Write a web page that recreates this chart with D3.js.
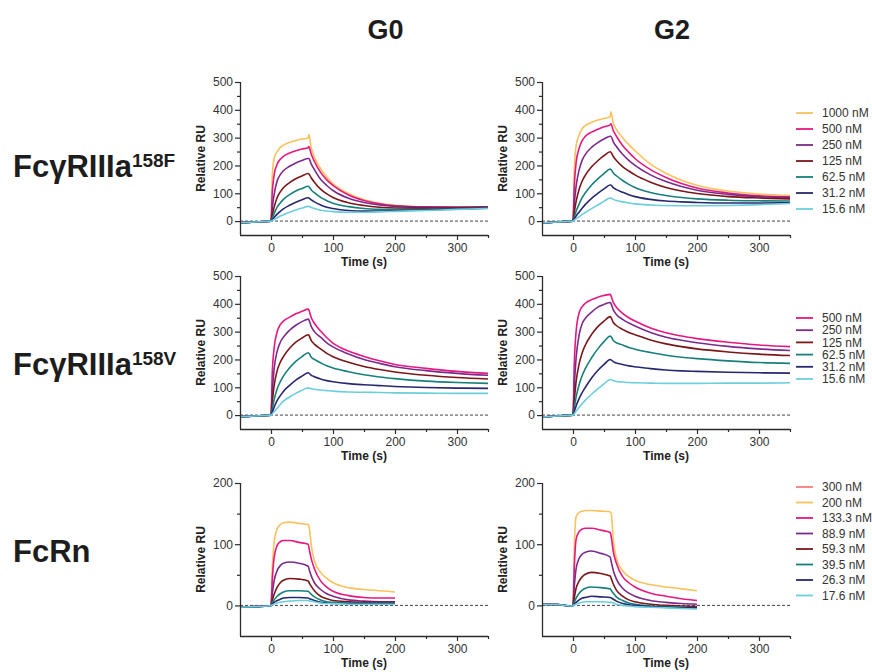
<!DOCTYPE html>
<html>
<head>
<meta charset="utf-8">
<script src="https://cdn.jsdelivr.net/npm/d3@7"></script>
<style>
  body { margin: 0; background: #fff; }
  svg { font-family: "Liberation Sans", Arial, sans-serif; }
</style>
</head>
<body>
<svg width="872" height="672"></svg>
<script>
// time grids (s)
const T_FC = [-50,-25,0,2,5,10,15,20,30,40,50,60,61,65,70,80,90,100,125,150,175,200,250,300,350];
const T_RN = [-50,-25,-5,0,2,5,10,15,20,30,45,60,62,65,70,80,90,100,125,150,175,200];

const LEG_F = ["1000 nM","500 nM","250 nM","125 nM","62.5 nM","31.2 nM","15.6 nM"];
const LEG_V = ["500 nM","250 nM","125 nM","62.5 nM","31.2 nM","15.6 nM"];
const LEG_RN = ["300 nM","200 nM","133.3 nM","88.9 nM","59.3 nM","39.5 nM","26.3 nM","17.6 nM"];

const COL_F = ["#f9c25e","#e5187f","#7b2b8c","#7a1719","#17807c","#28286f","#6ccddd"];
const COL_V = ["#e5187f","#7b2b8c","#7a1719","#17807c","#28286f","#6ccddd"];
const COL_RN = ["#f47f78","#f9c25e","#e5187f","#7b2b8c","#7a1719","#17807c","#28286f","#6ccddd"];

// G0 - FcgRIIIa 158F
const G0F = [
  [-6,-3,0,160,225,250,265,273,283,290,295,299,312,262,230,188,158,135,99,77,64,57,51,50,51],
  [-6,-3,0,100,165,205,222,233,245,253,259,264,268,240,215,175,148,128,94,74,62,55,51,50,51],
  [-6,-3,0,45,95,145,167,181,197,209,218,225,225,205,185,150,128,110,82,67,58,53,50,50,51],
  [-6,-3,0,22,50,85,105,120,138,152,162,171,170,155,140,115,98,85,66,56,50,47,46,47,49],
  [-6,-3,0,10,27,50,65,78,95,108,117,125,124,112,102,85,73,64,52,45,42,41,42,44,47],
  [-6,-3,0,5,13,25,35,44,57,68,77,84,83,76,69,58,50,45,38,36,36,37,40,43,46],
  [-6,-3,0,2,6,12,18,23,32,40,47,53,53,49,45,39,36,34,32,32,33,35,38,42,45]
];
// G2 - FcgRIIIa 158F
const G2F = [
  [-7,-3,0,180,270,310,333,343,355,363,369,375,393,352,330,300,275,253,205,172,147,129,108,97,92],
  [-7,-3,0,120,210,262,290,305,320,330,339,346,350,325,305,272,247,225,185,157,135,119,101,91,87],
  [-7,-3,0,60,125,185,220,240,265,282,295,305,305,285,268,240,218,200,166,142,124,111,96,88,84],
  [-7,-3,0,30,70,115,145,165,195,217,235,249,248,232,218,196,180,166,140,121,108,99,88,83,80],
  [-7,-3,0,14,35,62,85,102,130,152,171,187,186,173,163,146,132,121,103,92,85,80,75,73,72],
  [-7,-3,0,7,18,33,47,60,82,100,116,130,130,120,113,104,95,88,78,72,69,67,65,65,66],
  [-7,-3,0,3,8,16,24,31,45,58,71,83,83,78,74,69,65,62,58,56,55,55,56,59,63]
];
// G0 - FcgRIIIa 158V
const G0V = [
  [-6,-3,0,150,240,300,325,338,352,364,373,381,378,350,330,302,278,259,230,211,195,182,168,157,150],
  [-6,-3,0,80,165,230,262,280,305,323,336,345,343,318,300,280,260,245,220,200,186,174,160,150,143],
  [-6,-3,0,45,105,160,190,210,240,262,277,289,287,268,255,238,222,210,190,175,164,155,143,135,130],
  [-6,-3,0,20,55,95,120,140,170,193,210,224,223,208,200,188,177,169,156,145,137,131,122,117,114],
  [-6,-3,0,10,28,53,70,85,107,126,140,152,151,143,138,130,124,120,113,109,106,103,99,97,96],
  [-6,-3,0,4,12,25,38,50,65,78,89,98,98,95,93,90,88,86,83,82,81,80,79,78,78]
];
// G2 - FcgRIIIa 158V
const G2V = [
  [-7,-3,0,180,300,368,390,402,415,424,430,434,430,405,388,366,350,338,313,296,284,275,262,252,246],
  [-7,-3,0,100,205,290,330,348,370,388,398,405,402,378,362,344,331,320,297,280,269,260,247,238,232],
  [-7,-3,0,50,120,185,225,252,290,318,338,354,352,333,322,308,297,289,270,256,246,238,227,219,214],
  [-7,-3,0,25,65,110,143,168,206,238,264,284,283,268,260,252,243,237,225,215,208,203,195,189,186],
  [-7,-3,0,12,33,60,82,100,133,160,182,200,199,192,187,182,177,174,167,162,159,157,154,152,151],
  [-7,-3,0,5,14,28,42,54,75,94,112,128,128,124,121,119,117,116,115,114,114,114,115,115,116]
];
// G0 - FcRn (300 nM trace not visible)
const G0RN = [
  [],
  [-3,-2,-1,0,60,102,125,132,135,136,134,132,125,98,73,54,44,37,29,26,24,22],
  [-3,-2,-1,0,40,78,98,104,106,106,103,100,90,76,60,40,30,23,16,13,12,12],
  [-3,-2,-1,0,18,40,57,65,69,71,69,64,57,48,37,26,19,15,9,7,6,6],
  [-3,-2,-1,0,8,18,30,37,41,44,43,40,36,31,24,15,11,8,6,5,5,5],
  [-3,-2,-1,0,4,9,15,19,22,24,24,23,21,18,14,9,6,5,4,4,4,4],
  [-3,-2,-1,0,2,5,8,10,12,13,13,12,11,10,8,5,4,3,3,3,3,3],
  [-3,-2,-1,0,1,2,4,5,6,7,8,8,7,7,6,4,3,3,2,2,2,2]
];
// G2 - FcRn
const G2RN = [
  [],
  [2,1.5,-1,0,90,145,152,154,155,155,154,153,148,108,77,57,47,41,34,30,27,24],
  [2,1.5,-1,0,60,108,121,125,126,126,123,119,110,88,69,47,37,30,20,15,11,8],
  [2,1.5,-1,0,30,60,77,84,87,89,85,79,70,57,43,28,20,15,8,5,3,2],
  [2,1.5,-1,0,12,28,40,47,51,54,52,48,43,35,25,15,9,6,2,0,-1,-2],
  [2,1.5,-1,0,5,12,20,25,28,30,29,27,24,20,14,8,4,2,-1,-2,-3,-4],
  [2,1.5,-1,0,2,5,9,12,13,15,14,13,12,10,7,3,1,0,-2,-3,-4,-4],
  [2,1.5,-1,0,1,2,4,5,6,6,6,5,5,4,2,0,-1,-2,-3,-4,-5,-6]
];

const svg = d3.select("svg");
const AX = "#2b2b2b";

const panels = [
  {x0: 240, y0: 82,  yMax: 500, t: T_FC, data: G0F,  colors: COL_F},
  {x0: 542, y0: 82,  yMax: 500, t: T_FC, data: G2F,  colors: COL_F,
   legend: {labels: LEG_F, y: 113, step: 16}},
  {x0: 240, y0: 276, yMax: 500, t: T_FC, data: G0V,  colors: COL_V},
  {x0: 542, y0: 276, yMax: 500, t: T_FC, data: G2V,  colors: COL_V,
   legend: {labels: LEG_V, y: 318, step: 12.2}},
  {x0: 240, y0: 483, yMax: 200, t: T_RN, data: G0RN, colors: COL_RN},
  {x0: 542, y0: 483, yMax: 200, t: T_RN, data: G2RN, colors: COL_RN,
   legend: {labels: LEG_RN, y: 487, step: 15.5}}
];
const PW = 248, PH = 153;

panels.forEach(p => {
  const x = d3.scaleLinear().domain([-50, 350]).range([p.x0, p.x0 + PW]);
  const y = d3.scaleLinear().domain([-50, p.yMax]).range([p.y0 + PH, p.y0]);
  const g = svg.append("g");

  // zero line
  g.append("line")
    .attr("x1", x(-50)).attr("x2", x(350))
    .attr("y1", y(0)).attr("y2", y(0))
    .attr("stroke", "#444").attr("stroke-width", 1)
    .attr("stroke-dasharray", "3,2");

  // traces
  const line = d3.line()
    .x((d, i) => x(p.t[i]))
    .y(d => y(d))
    .curve(d3.curveMonotoneX);
  p.data.forEach((s, k) => {
    if (!s.length) return;
    g.append("path")
      .attr("d", line(s))
      .attr("fill", "none")
      .attr("stroke", p.colors[k])
      .attr("stroke-width", 1.6);
  });

  // axes
  const major = d3.range(0, p.yMax + 1, 100);
  const minor = d3.range(-50, p.yMax, 100).concat([50]).filter(v => v > -50);
  const yAx = g.append("g").attr("transform", `translate(${p.x0},0)`)
    .call(d3.axisLeft(y).tickValues(major).tickSize(5).tickPadding(2));
  g.append("g").attr("transform", `translate(${p.x0},0)`)
    .call(d3.axisLeft(y).tickValues(d3.range(50, p.yMax, 100)).tickSize(3).tickFormat(""))
    .select(".domain").remove();
  const xAx = g.append("g").attr("transform", `translate(0,${p.y0 + PH})`)
    .call(d3.axisBottom(x).tickValues([0, 100, 200, 300]).tickSize(5).tickPadding(3));
  g.append("g").attr("transform", `translate(0,${p.y0 + PH})`)
    .call(d3.axisBottom(x).tickValues([50, 150, 250, 350]).tickSize(3).tickFormat(""))
    .select(".domain").remove();

  g.selectAll(".domain").attr("stroke", AX).attr("stroke-width", 1.3);
  g.selectAll(".tick line").attr("stroke", AX).attr("stroke-width", 1.2);
  g.selectAll(".tick text").attr("fill", "#333").style("font-size", "12px")
    .style("font-family", "Liberation Sans, Arial, sans-serif");
  yAx.select(".domain").attr("d", `M0.5,${p.y0 + PH}V${p.y0}`);
  xAx.select(".domain").attr("d", `M${p.x0},0.5H${p.x0 + PW}`);

  g.append("text")
    .attr("transform", `translate(${p.x0 - 35},${p.y0 + PH / 2}) rotate(-90)`)
    .attr("text-anchor", "middle")
    .attr("font-size", 12).attr("font-weight", "bold").attr("fill", "#222")
    .text("Relative RU");
  g.append("text")
    .attr("x", p.x0 + PW / 2).attr("y", p.y0 + PH + 31)
    .attr("text-anchor", "middle")
    .attr("font-size", 12).attr("font-weight", "bold").attr("fill", "#222")
    .text("Time (s)");

  if (p.legend) {
    const lg = g.append("g");
    p.legend.labels.forEach((lab, k) => {
      const ly = p.legend.y + k * p.legend.step;
      lg.append("line")
        .attr("x1", 796).attr("x2", 813).attr("y1", ly).attr("y2", ly)
        .attr("stroke", p.colors[k]).attr("stroke-width", 1.8);
      lg.append("text")
        .attr("x", 822).attr("y", ly).attr("dy", "0.35em")
        .attr("font-size", 12).attr("fill", "#333")
        .text(lab);
    });
  }
});

// column titles
[["G0", 385.5], ["G2", 672]].forEach(([t, cx]) => {
  svg.append("text").attr("x", cx).attr("y", 39)
    .attr("text-anchor", "middle")
    .attr("font-size", 27).attr("font-weight", "bold").attr("fill", "#1d1d1d")
    .text(t);
});

// row titles
const rows = [["FcγRIIIa", "158F", 177], ["FcγRIIIa", "158V", 375], ["FcRn", "", 562]];
rows.forEach(([main, sup, by]) => {
  const t = svg.append("text").attr("x", 13).attr("y", by)
    .attr("font-size", 31).attr("font-weight", "bold").attr("fill", "#1d1d1d");
  t.append("tspan").text(main);
  if (sup) t.append("tspan").attr("dy", -10.5).attr("font-size", 19).text(sup);
});
</script>
</body>
</html>
